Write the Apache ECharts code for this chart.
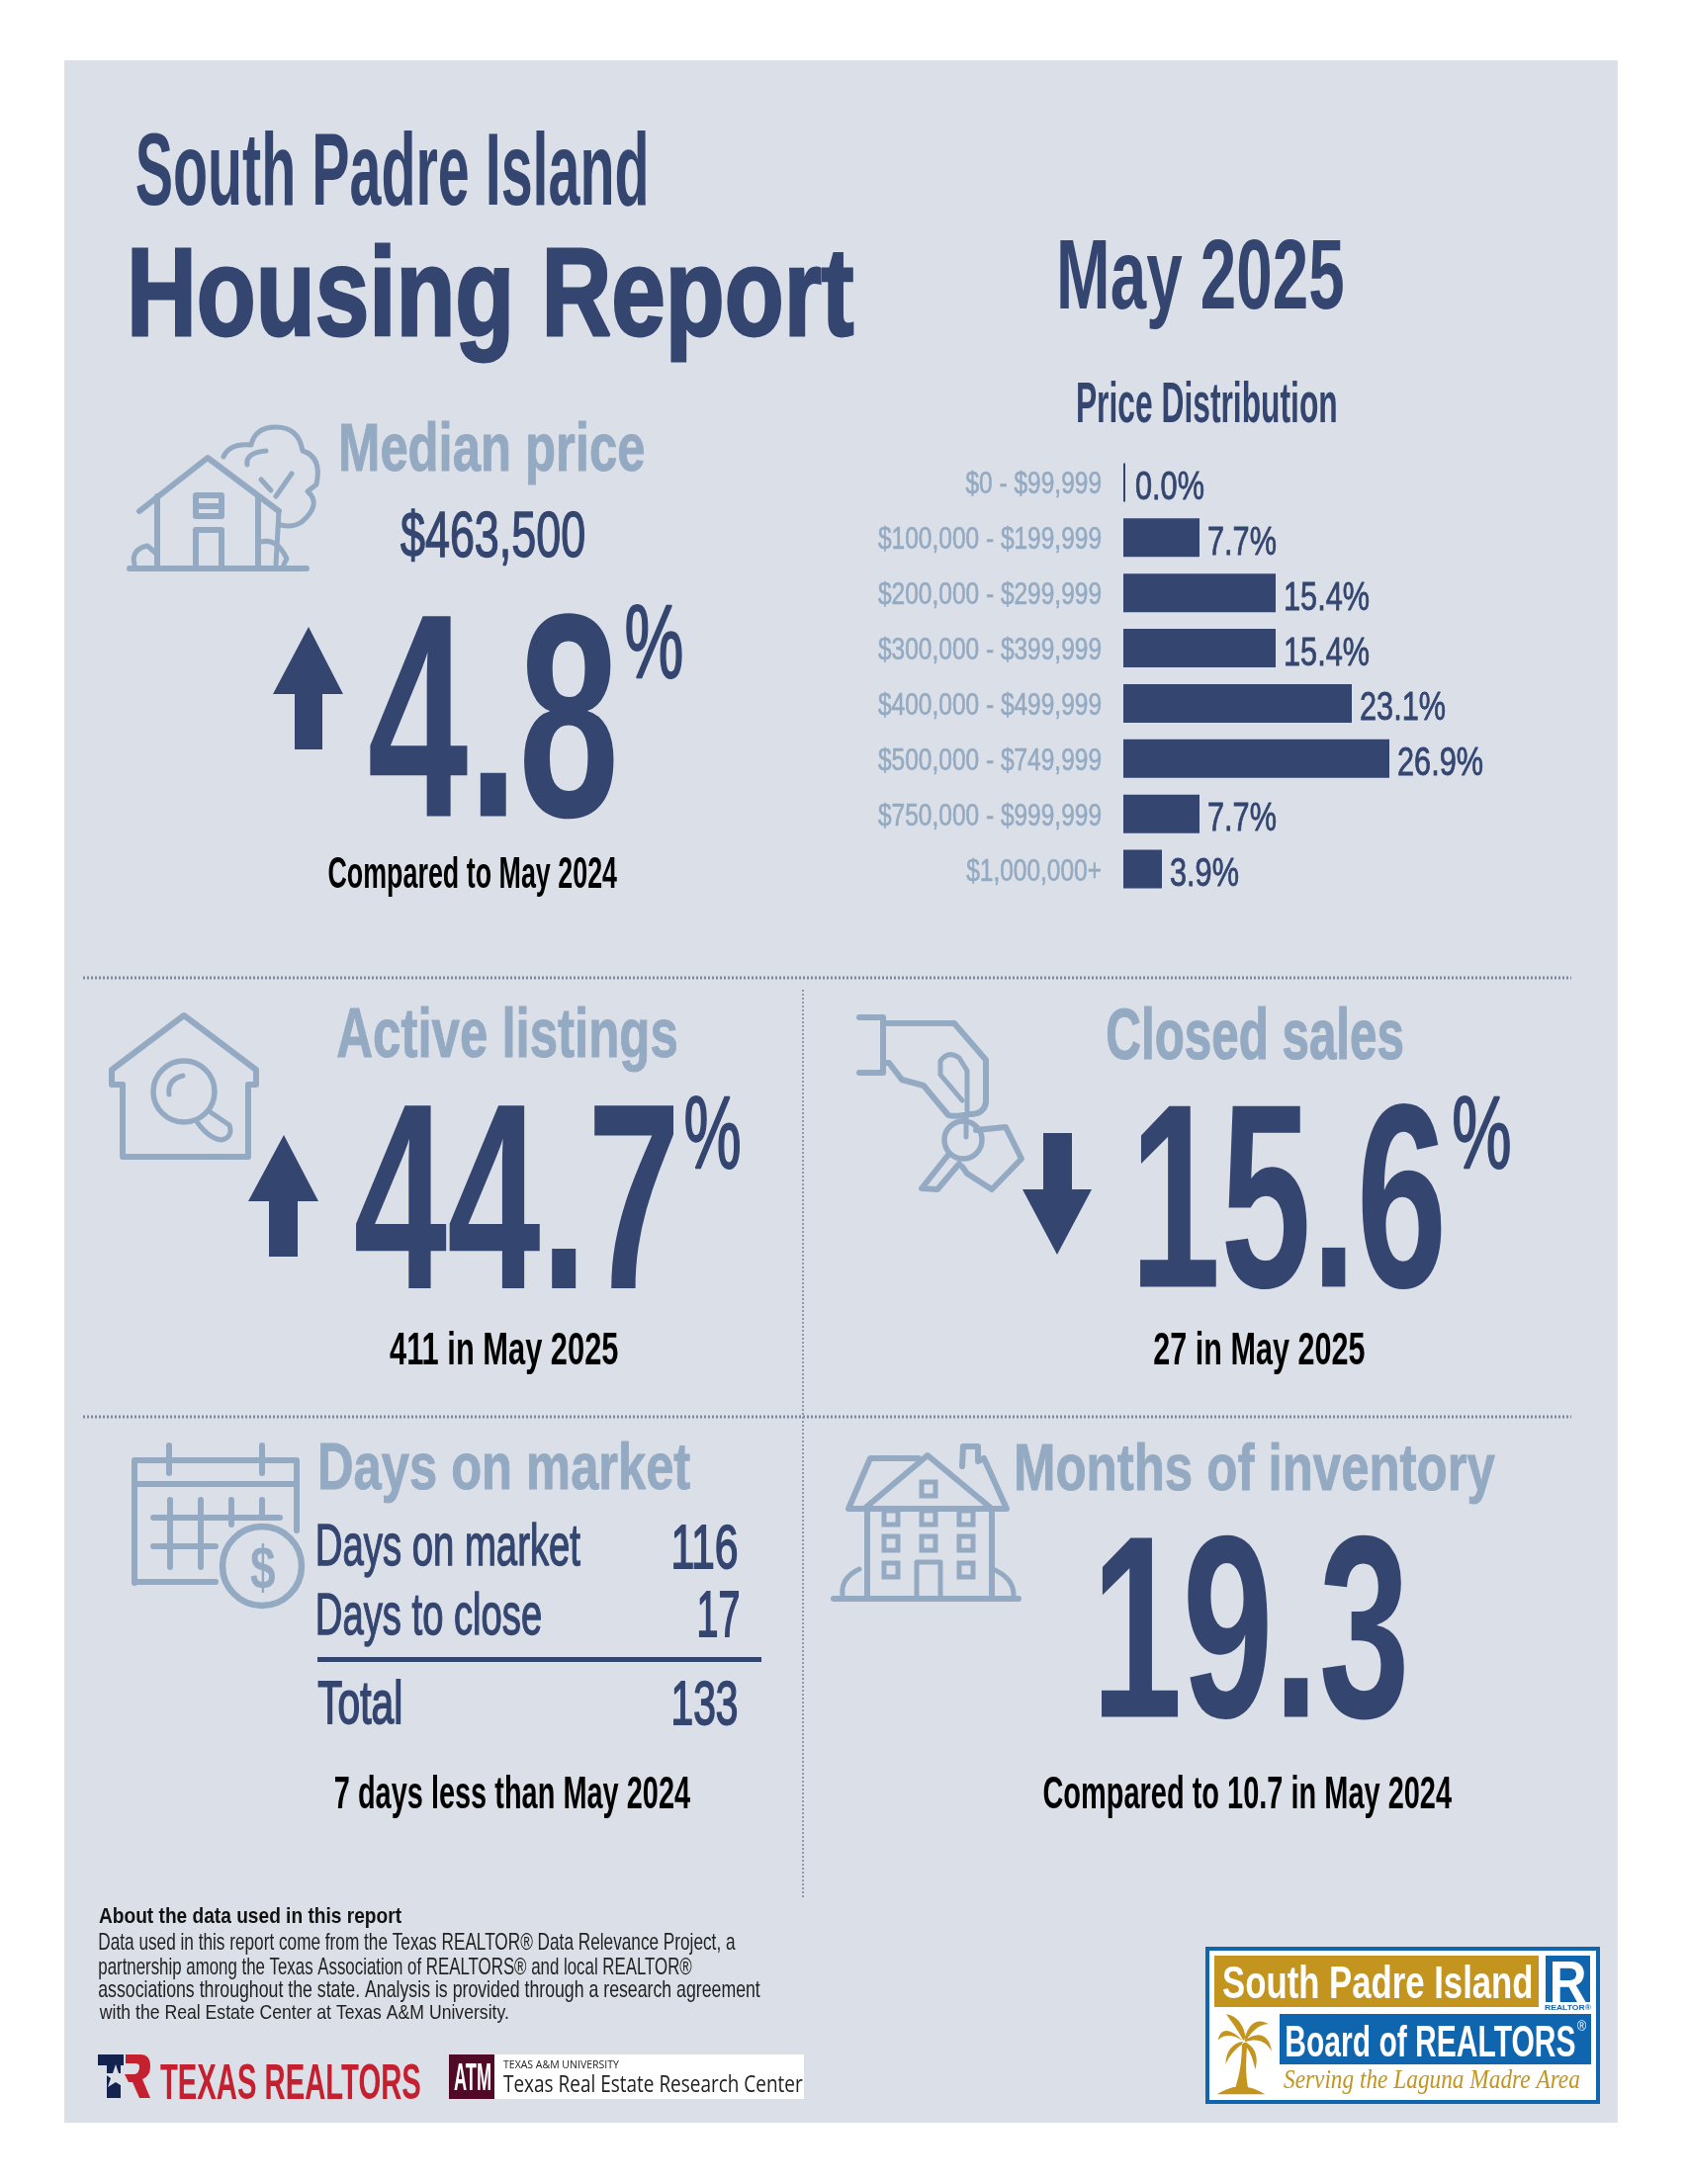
<!DOCTYPE html>
<html>
<head>
<meta charset="utf-8">
<style>
    html,body{margin:0;padding:0;background:#fff;}
    #report{width:1707px;height:2209px;}
</style>
<script src="https://cdn.jsdelivr.net/npm/echarts@6/dist/echarts.min.js"></script>
</head>
<body>
<div id="report"></div>
<script>
    // price distribution
    var priceBands = ['$0 - $99,999','$100,000 - $199,999','$200,000 - $299,999','$300,000 - $399,999','$400,000 - $499,999','$500,000 - $749,999','$750,000 - $999,999','$1,000,000+'];
    var priceShares = [0.0,7.7,15.4,15.4,23.1,26.9,7.7,3.9];

    // headline numbers
    var medianPrice = '$463,500';
    var medianChange = '4.8';
    var activeChange = '44.7';
    var closedChange = '15.6';
    var monthsInventory = '19.3';

    // days on market table
    var dayLabels = ['Days on market','Days to close','Total'];
    var dayValues = ['116','17','133'];

    var footnote = [
        'Data used in this report come from the Texas REALTOR® Data Relevance Project, a',
        'partnership among the Texas Association of REALTORS® and local REALTOR®',
        'associations throughout the state. Analysis is provided through a research agreement',
        'with the Real Estate Center at Texas A&M University.'
    ];

    var navy = '#344670';
    var light = '#94aac2';
    var panel = '#dbe0e8';
    var sans = '"Liberation Sans",sans-serif';
    var gold = '#c3951f';
    var blue = '#0f65ae';

    var ctx = document.createElement('canvas').getContext('2d');
    var items = [];

    // text whose ink fills the box x0..x1 / y0..y1
    function fit(str, x0, x1, y0, y1, color, weight, family, fontStyle, bolden){
        var size = Math.round((y1 - y0) * 1.1);
        ctx.font = (fontStyle || 'normal') + ' ' + (weight || 'bold') + ' ' + size + 'px ' + (family || sans);
        ctx.textAlign = 'left';
        ctx.textBaseline = 'middle';
        var m = ctx.measureText(str);
        var sx = (x1 - x0) / (m.actualBoundingBoxLeft + m.actualBoundingBoxRight);
        var sy = (y1 - y0) / (m.actualBoundingBoxAscent + m.actualBoundingBoxDescent);
        var style = {
            text:str,
            fill:color || navy,
            fontFamily:family || sans,
            fontSize:size,
            fontWeight:weight || 'bold',
            fontStyle:fontStyle || 'normal',
            align:'left',
            verticalAlign:'middle'
        };
        if(bolden){
            style.stroke = color || navy;
            style.lineWidth = bolden;
        }
        items.push({
            type:'text',
            x:x0 + m.actualBoundingBoxLeft * sx,
            y:y0 + m.actualBoundingBoxAscent * sy,
            scaleX:sx,
            scaleY:sy,
            style:style
        });
    }

    function rect(x, y, w, h, fill, z){
        items.push({type:'rect', z:z || 0, shape:{x:x, y:y, width:w, height:h}, style:{fill:fill}});
    }

    function dotted(x1, y1, x2, y2, color, width){
        items.push({type:'line', shape:{x1:x1, y1:y1, x2:x2, y2:y2}, style:{stroke:color, lineWidth:width, lineDash:[2,2]}});
    }

    var shapeCount = 0;
    function svg(d, stroke, width, fill){
        var name = 'reportIcon' + (shapeCount++);
        echarts.graphic.registerShape(name, echarts.graphic.extendPath(d));
        return {type:name, shape:{}, style:{fill:fill || 'none', stroke:stroke || 'none', lineWidth:width || 0, lineJoin:'round', lineCap:'round'}};
    }
    function icon(d, width){
        items.push(svg(d, light, width || 6));
    }
    function ring(cx, cy, r, width){
        items.push({type:'circle', shape:{cx:cx, cy:cy, r:r}, style:{fill:'none', stroke:light, lineWidth:width}});
    }
    function arrow(points){
        items.push({type:'polygon', shape:{points:points}, style:{fill:navy}});
    }

    // background
    rect(65, 61, 1571, 2086, panel, -10);

    // heading
    fit('South Padre Island', 138, 653, 132, 208);
    fit('Housing Report', 134, 863, 247, 366, navy, 'bold', sans, 'normal', 3);
    fit('May 2025', 1072, 1358, 242, 333);
    fit('Price Distribution', 1090, 1351, 386, 427);

    // median price
    fit('Median price', 345, 651, 427, 491, light, 'bold', sans, 'normal', 1);
    fit(medianPrice, 405, 591, 514, 572, navy, 'normal', sans, 'normal', 1.4);
    fit(medianChange, 374, 621, 620, 828, navy, 'bold');
    fit('%', 633, 689, 610, 685, navy, 'normal', sans, 'normal', 1.5);
    arrow([[312,634],[347,702],[326,702],[326,758],[298,758],[298,702],[276,702]]);
    fit('Compared to May 2024', 332, 624, 866, 907, '#000');

    // separators
    dotted(84, 989, 1589, 989, '#7f8a9e', 3);
    dotted(84, 1433, 1589, 1433, '#7f8a9e', 3);
    dotted(812, 1001, 812, 1919, '#8f99aa', 2);

    // active listings
    fit('Active listings', 341, 684, 1018, 1084, light, 'bold', sans, 'normal', 1);
    fit(activeChange, 360, 681, 1117, 1303, navy, 'bold');
    fit('%', 693, 748, 1107, 1181, navy, 'normal', sans, 'normal', 1.5);
    arrow([[287,1148],[322,1215],[301,1215],[301,1271],[272,1271],[272,1215],[251,1215]]);
    fit('411 in May 2025', 394, 625, 1346, 1390, '#000');

    // closed sales
    fit('Closed sales', 1120, 1418, 1019, 1072, light, 'bold', sans, 'normal', 1);
    fit(closedChange, 1153, 1458, 1115, 1304, navy, 'bold');
    fit('%', 1470, 1527, 1107, 1181, navy, 'normal', sans, 'normal', 1.5);
    arrow([[1055,1146],[1084,1146],[1084,1203],[1104,1203],[1069,1269],[1034,1203],[1055,1203]]);
    fit('27 in May 2025', 1167, 1380, 1346, 1390, '#000');

    // days on market
    fit('Days on market', 324, 698, 1459, 1520, light, 'bold', sans, 'normal', 1);
    fit(dayLabels[0], 322, 587, 1541, 1596, navy, 'normal', sans, 'normal', 1.4);
    fit(dayValues[0], 681, 745, 1541, 1586, navy, 'normal', sans, 'normal', 1.4);
    fit(dayLabels[1], 322, 547, 1611, 1666, navy, 'normal', sans, 'normal', 1.4);
    fit(dayValues[1], 707, 747, 1611, 1655, navy, 'normal', sans, 'normal', 1.4);
    rect(321, 1676, 449, 5, navy);
    fit(dayLabels[2], 322, 405, 1699, 1743, navy, 'normal', sans, 'normal', 1.4);
    fit(dayValues[2], 681, 745, 1699, 1744, navy, 'normal', sans, 'normal', 1.4);
    fit('7 days less than May 2024', 339, 698, 1796, 1839, '#000');

    // months of inventory
    fit('Months of inventory', 1028, 1512, 1459, 1521, light, 'bold', sans, 'normal', 1);
    fit(monthsInventory, 1114, 1420, 1551, 1739, navy, 'bold');
    fit('Compared to 10.7 in May 2024', 1055, 1468, 1796, 1839, '#000');

    // house and tree icon
    icon('M131 575 L310 575 M141 517 L210 463 L282 517 M159 502 L159 575 M261 502 L261 575 M198 501 L224 501 L224 522 L198 522 Z M198 512 L224 512 M198 575 L198 536 L224 536 L224 575');
    icon('M226 462 Q232 448 254 450 Q258 432 279 432 Q302 432 306 456 Q326 462 320 490 L311 497 Q326 510 305 528 Q296 534 284 531 M282 517 L279 571 M295 479 L279 502 M264 485 L274 496 M250 470 Q248 458 269 456 M136 571 Q132 556 149 552 L157 559 M264 548 Q280 544 290 565 L287 571', 5);

    // house with magnifier icon
    icon('M186 1027 L259 1082 L259 1097 L251 1097 L251 1170 L124 1170 L124 1097 L113 1097 L113 1082 Z');
    ring(186, 1104, 31, 5.5);
    icon('M213 1125 L232 1138 Q236 1150 224 1153 Q212 1152 200 1136 M171 1107 Q169 1092 185 1088', 5);

    // hand with keys icon
    icon('M869 1029 L893 1029 L893 1085 L869 1085 M893 1035 L965 1035 L997 1072 L997 1115 Q995 1127 981 1127 Q965 1130 959 1128 L934 1098 L912 1092 L899 1075 L893 1075');
    icon('M978 1123 L978 1083 L970 1070 Q959 1062 951 1073 L951 1087 L973 1113 M977 1127 L977 1150', 5);
    ring(974, 1153, 19, 5.5);
    icon('M959 1168 L932 1202 L948 1203 L970 1177 M987 1143 L1017 1140 L1033 1172 L1003 1203 L978 1187 L973 1180');

    // calendar icon
    icon('M136 1601 L136 1477 L300 1477 L300 1548 M136 1501 L300 1501 M136 1600 L218 1600 M171 1462 L171 1490 M265 1462 L265 1490 M155 1535 L283 1535 M155 1564 L218 1564 M172 1517 L172 1585 M203 1517 L203 1585 M234 1517 L234 1542 M265 1517 L265 1535');
    ring(265, 1584, 40, 6.5);
    fit('$', 253, 278, 1558, 1610, light);

    // apartment house icon
    icon('M843 1617 L1030 1617 M877 1527 L877 1617 M1003 1527 L1003 1617 M858 1526 L1018 1526 L995 1475 M858 1526 L880 1475 L929 1475 M874 1526 L938 1472 L1003 1526 M973 1483 L974 1463 L989 1463 L989 1478 L995 1475');
    icon('M927 1617 L927 1580 L951 1580 L951 1617 M852 1613 Q850 1596 869 1587 M1004 1587 Q1025 1596 1025 1613', 5);
    var winX = [901,939,977];
    var winY = [1535,1561,1588];
    winX.forEach(function(x){
        winY.forEach(function(y){
            if(x != 939 || y != 1588){
                items.push({type:'rect', shape:{x:x - 7, y:y - 7, width:14, height:14}, style:{fill:'none', stroke:light, lineWidth:5}});
            }
        });
    });
    items.push({type:'rect', shape:{x:932, y:1499, width:14, height:14}, style:{fill:'none', stroke:light, lineWidth:5}});

    // about the data
    fit('About the data used in this report', 100, 406, 1928, 1950, '#111');
    fit(footnote[0], 100, 744, 1955, 1977, '#222', 'normal');
    fit(footnote[1], 100, 700, 1980, 2002, '#222', 'normal');
    fit(footnote[2], 100, 769, 2003, 2025, '#222', 'normal');
    fit(footnote[3], 100, 514, 2027, 2047, '#222', 'normal');

    // Texas Realtors logo
    rect(99, 2078, 26, 11, '#14224f');
    rect(108, 2089, 14, 33, '#14224f');
    items.push({type:'polygon', shape:{points:[[117,2088],[120,2097],[129,2097],[122,2102],[125,2111],[117,2106],[109,2111],[112,2102],[105,2097],[114,2097]]}, style:{fill:panel}});
    items.push(svg('M127 2078 L142 2078 Q152 2078 152 2090 Q152 2100 144 2103 L152 2122 L141 2122 L134 2106 L130 2106 L126 2098 L136 2098 Q141 2097 141 2090 Q141 2087 136 2087 L127 2087 Z', null, 0, '#c4202f'));
    fit('TEXAS REALTORS', 162, 425, 2088, 2123, '#c4202f');

    // A&M logo
    rect(500, 2078, 313, 45, '#fff');
    rect(454, 2078, 46, 45, '#500a28');
    fit('ATM', 459, 496, 2086, 2114, '#fff');
    fit('TEXAS A&M UNIVERSITY', 509, 627, 2084, 2092, '#222', 'normal', '"Open Sans",sans-serif');
    fit('Texas Real Estate Research Center', 509, 812, 2099, 2116, '#222', 'normal', '"Open Sans",sans-serif');

    // South Padre Island board logo
    items.push({type:'rect', shape:{x:1221, y:1971, width:395, height:155}, style:{fill:'#fff', stroke:blue, lineWidth:4}});
    rect(1228, 1978, 328, 52, gold);
    fit('South Padre Island', 1237, 1549, 1987, 2021, '#fff');
    rect(1563, 1978, 45, 47, blue);
    fit('R', 1570, 1604, 1984, 2025, '#fff');
    fit('REALTOR®', 1562, 1610, 2027, 2033, blue);
    rect(1294, 2037, 315, 51, blue);
    fit('Board of REALTORS', 1301, 1593, 2049, 2080, '#fff');
    fit('®', 1595, 1604, 2044, 2054, '#fff', 'normal');
    fit('Serving the Laguna Madre Area', 1298, 1597, 2093, 2118, gold, 'normal', '"Liberation Serif",serif', 'italic');
    items.push({
        type:'group', x:1200, y:1960, scaleX:1 / 3, scaleY:1 / 3,
        children:[
            svg('M172 312 C150 270 125 240 120 232 C150 235 175 265 178 300 Z M170 312 C140 280 105 265 95 310 C115 290 145 295 170 312 Z M170 315 C140 320 120 340 118 385 C130 355 150 335 172 320 Z M175 310 C185 260 215 240 250 262 C225 260 200 280 180 312 Z M176 312 C210 285 250 285 258 345 C240 310 210 305 178 316 Z M176 318 C205 325 220 360 208 400 C200 360 190 340 172 322 Z M168 318 L184 318 C180 370 178 410 186 455 L148 455 C162 410 168 370 168 318 Z M92 475 C120 460 140 450 165 452 C190 450 215 462 238 475 Z', null, 0, gold)
        ]
    });

    // condensed labels, width taken from the longest label of each kind
    ctx.font = 'normal 31px ' + sans;
    var bandScale = 226 / ctx.measureText('$100,000 - $199,999').width;
    ctx.font = 'normal 40px ' + sans;
    var shareScale = 87 / ctx.measureText('15.4%').width;

    var myChart = echarts.init(document.getElementById('report'), null, {width:1707, height:2209});

    var option = {
        backgroundColor:'#fff',
        animation:false,
        grid:{left:1136, top:460, width:300, height:447},
        xAxis:{type:'value', min:0, max:30, show:false},
        yAxis:{
            type:'category',
            inverse:true,
            data:priceBands,
            axisLine:{show:false},
            axisTick:{show:false},
            splitLine:{show:false},
            axisLabel:{show:false}
        },
        series:[{
            type:'bar',
            data:priceShares,
            barWidth:39,
            barMinHeight:2,
            itemStyle:{color:navy}
        },{
            // band names
            type:'custom',
            silent:true,
            data:priceShares.map(function(v, i){return [0, i];}),
            encode:{x:0, y:1},
            renderItem:function(params, api){
                var p = api.coord([0, api.value(1)]);
                return {
                    type:'text',
                    x:p[0] - 22,
                    y:p[1] + 3,
                    scaleX:bandScale,
                    style:{
                        text:priceBands[params.dataIndex],
                        fill:light,
                        fontFamily:sans,
                        fontSize:31,
                        stroke:light,
                        lineWidth:0.6,
                        align:'right',
                        verticalAlign:'middle'
                    }
                };
            }
        },{
            // share labels
            type:'custom',
            silent:true,
            data:priceShares.map(function(v, i){return [v, i];}),
            encode:{x:0, y:1},
            renderItem:function(params, api){
                var v = api.value(0);
                var p = api.coord([v, api.value(1)]);
                return {
                    type:'text',
                    x:p[0] + (v ? 8 : 12),
                    y:p[1] + 6,
                    scaleX:shareScale,
                    style:{
                        text:v.toFixed(1) + '%',
                        fill:navy,
                        fontFamily:sans,
                        fontSize:40,
                        stroke:navy,
                        lineWidth:0.8,
                        align:'left',
                        verticalAlign:'middle'
                    }
                };
            }
        }],
        graphic:{elements:items}
    };

    myChart.setOption(option, true);
</script>
</body>
</html>
